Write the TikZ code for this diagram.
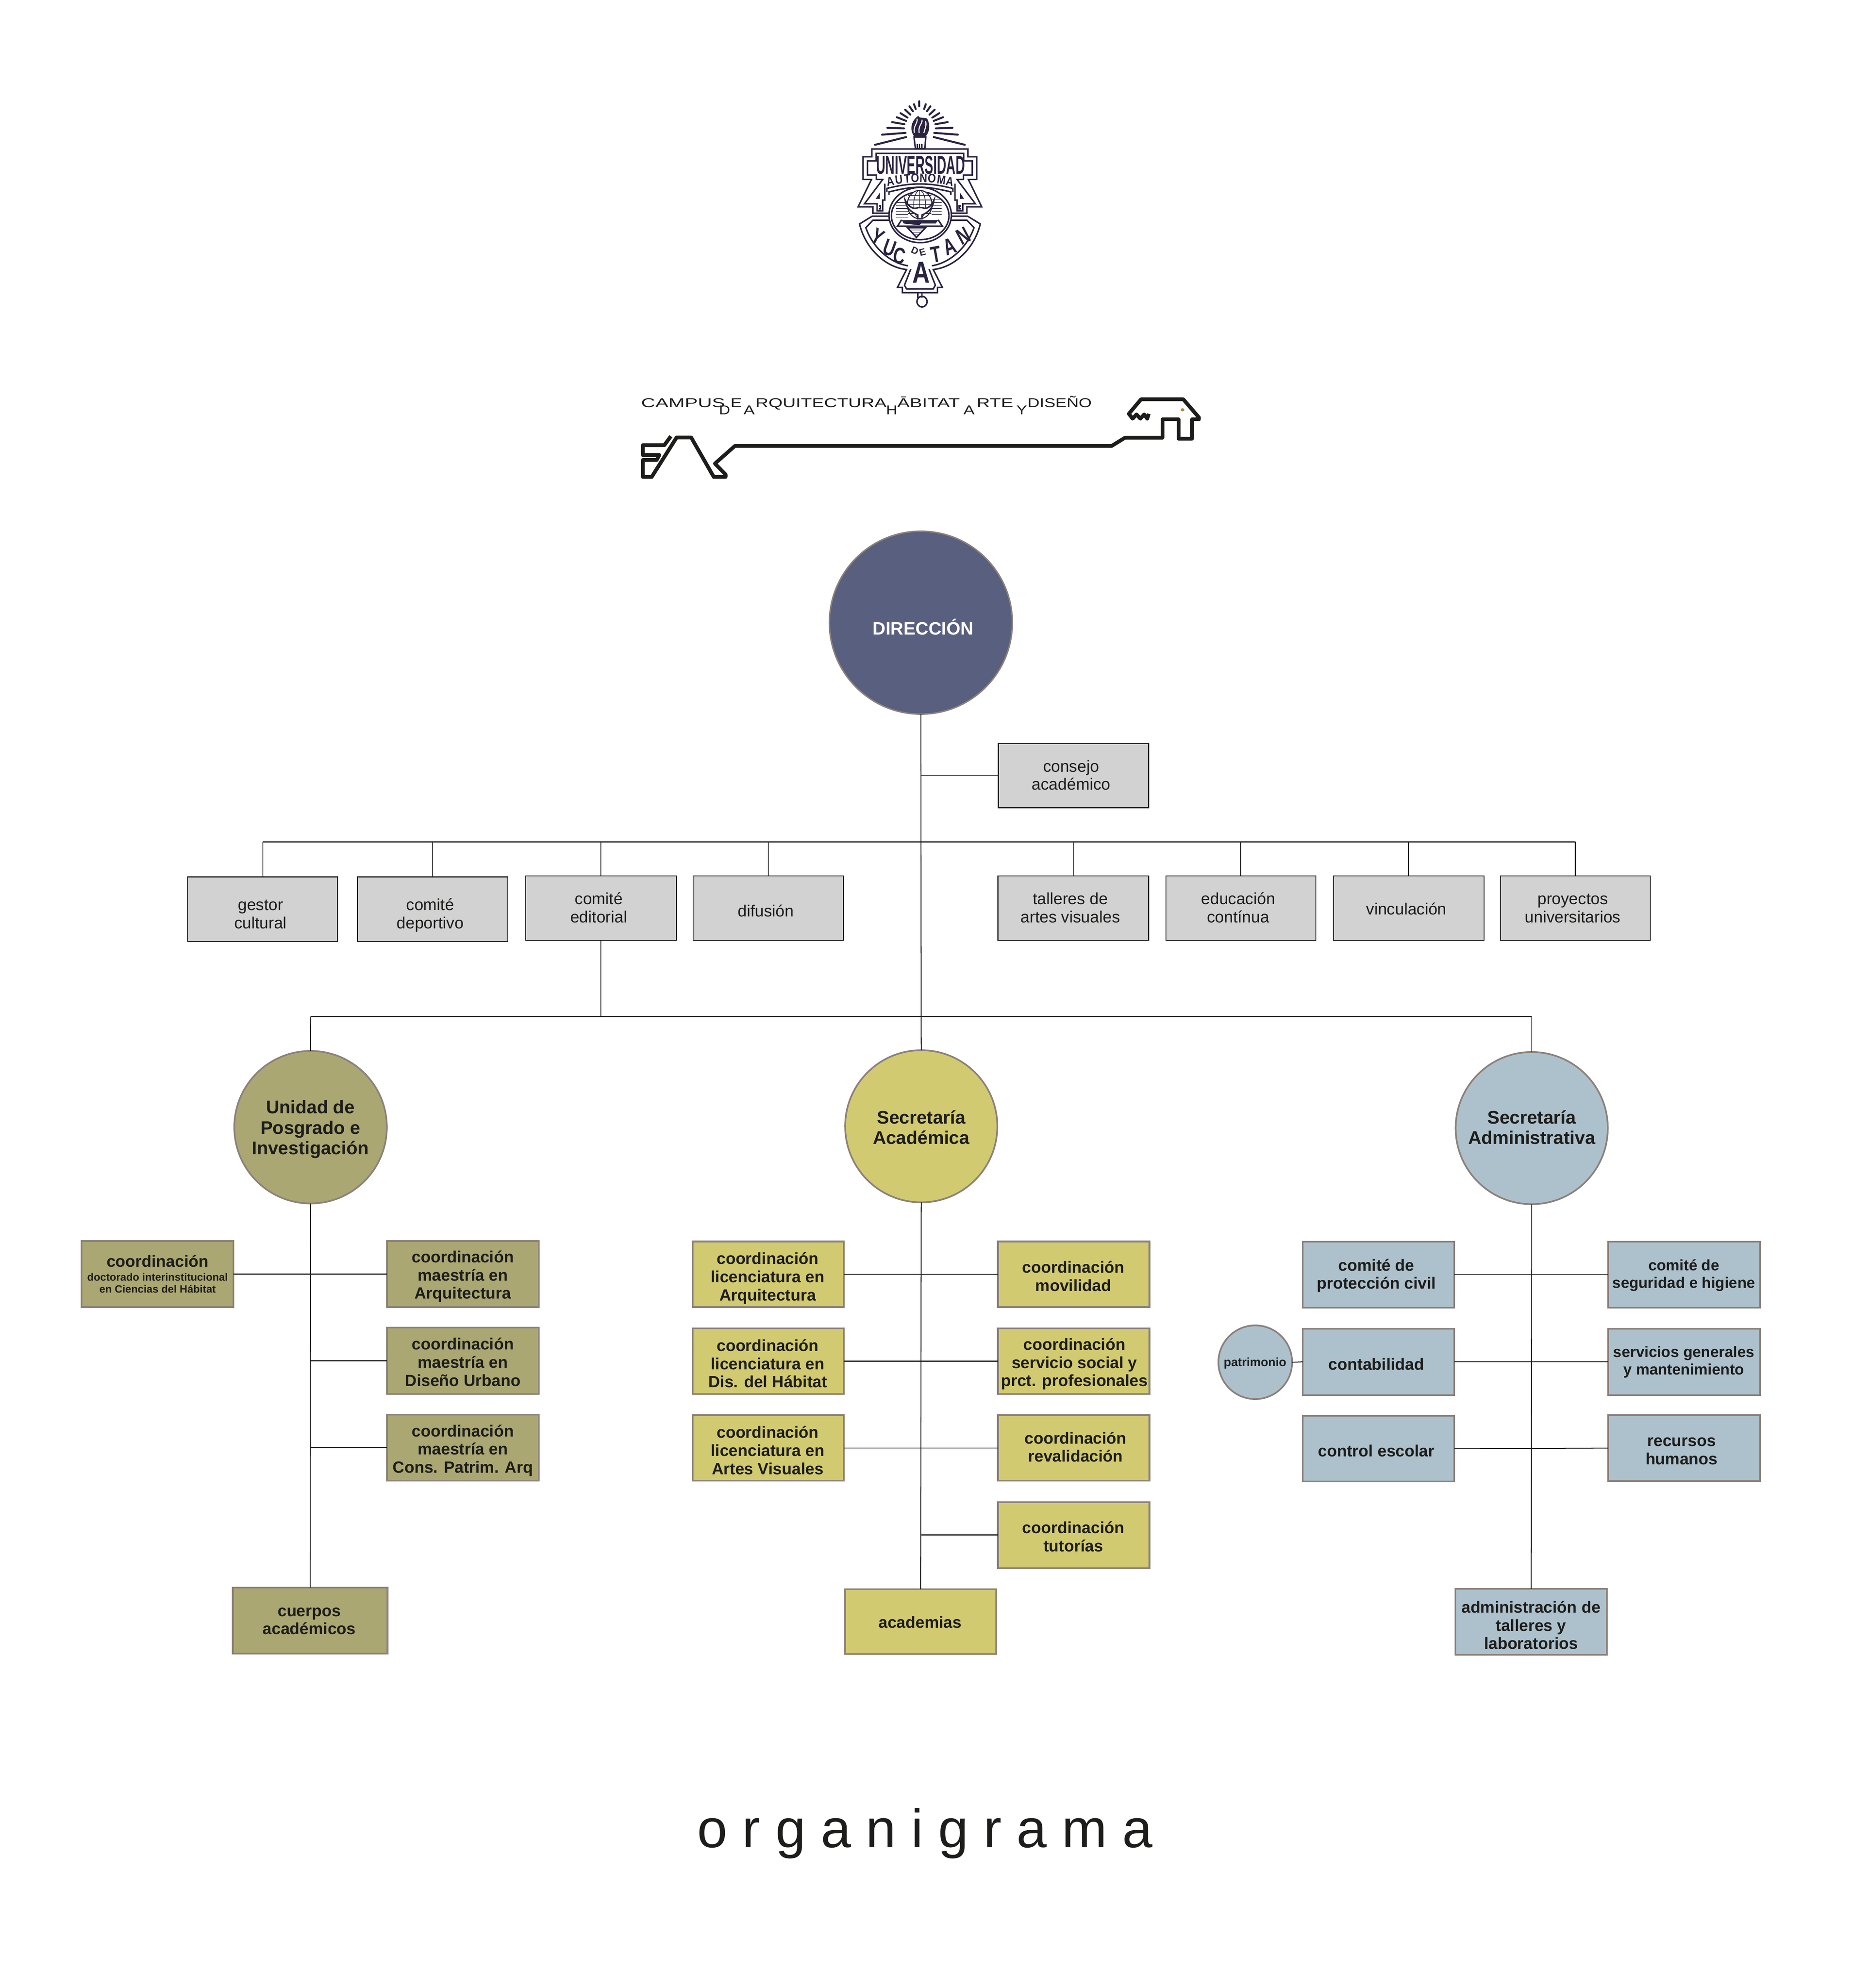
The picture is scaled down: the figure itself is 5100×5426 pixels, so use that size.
\documentclass[tikz,border=0pt]{standalone}
\usepackage{fontspec}
\setmainfont{Liberation Sans}
\definecolor{inkdark}{HTML}{1D1D1B}
\definecolor{edgegray}{HTML}{8C817A}
\definecolor{crestink}{HTML}{2A2340}
\definecolor{dirblue}{HTML}{595F7E}
\definecolor{boxgray}{HTML}{D2D2D3}
\definecolor{olive}{HTML}{ABA773}
\definecolor{straw}{HTML}{D2CA70}
\definecolor{steel}{HTML}{ADC1CC}
\definecolor{ochre}{HTML}{B08A3C}
\tikzset{
    orgnode/.style={draw=edgegray,line width=1.3pt,inner sep=0pt,outer sep=0pt,text=inkdark,
        font=\fontsize{12.6}{14.1}\selectfont\bfseries},
    graybox/.style={orgnode,draw=inkdark,line width=.7pt,fill=boxgray,font=\fontsize{12.6}{14.1}\selectfont},
    olivebox/.style={orgnode,fill=olive},
    strawbox/.style={orgnode,fill=straw},
    steelbox/.style={orgnode,fill=steel},
    bigcirc/.style={circle,font=\fontsize{14.2}{15.9}\selectfont\bfseries},
    link/.style={draw=inkdark,line width=.7pt},
    crestline/.style={draw=crestink,line width=1.15pt,line join=miter},
    crestray/.style={draw=crestink,line width=1.5pt,line cap=round},
    crestletter/.style={text=crestink,inner sep=0pt,font=\fontsize{17.7}{18}\selectfont\bfseries},
    campusline/.style={draw=inkdark,line width=2.9pt,line join=round},
    campustext/.style={text=inkdark,inner sep=0pt,anchor=base west,font=\fontsize{10}{10}\selectfont},
}
% name, style, left, top, right, bottom, text x, last baseline, text
\newcommand\OrgBox[9]{%
    \pgfmathsetmacro\BoxCx{(#3+#5)/2}
    \pgfmathsetmacro\BoxCy{(#4+#6)/2}
    \pgfmathsetmacro\TextDx{2*(#7-\BoxCx)/100}
    \pgfmathsetmacro\TextUp{(\BoxCy-#8-3)/100}
    \node[#2,minimum width={(#5-#3-3)*1cm/100},minimum height={(#6-#4-3)*1cm/100}] (#1) at (\BoxCx,\BoxCy)
        {\makebox[0pt]{\hspace*{\TextDx cm}\smash{\raisebox{\TextUp cm}{\begin{tabular}[b]{@{}c@{}}#9\end{tabular}}}}};
}
\newcommand\SmallNote{\fontsize{8.25}{9.3}\selectfont}
\newcommand\TightText{\fontsize{11.8}{13.6}\selectfont}
\newcommand\CrestHalf{%
    \foreach \xa/\ya/\xb/\yb in {490/430/712/378,540/362/708/350,578/316/697/320,612/278/700/292,
        645/245/712/270,672/218/722/248,705/195/742/228,735/172/760/205,768/158/780/190}
        \draw[crestray] (\xa,\ya) -- (\xb,\yb);
    \draw[crestline] (810,458) -- (468,458) -- (468,510) -- (405,510) -- (405,662) -- (465,662) -- (370,845) -- (475,845) -- (475,888) -- (590,888);
    \draw[crestline] (810,487) -- (498,487) -- (498,538) -- (437,538) -- (437,632) -- (500,632) -- (500,662) -- (545,662) -- (415,825) -- (505,825) -- (505,872) -- (545,872) -- (545,800) -- (560,800) -- (560,690);
    \draw[crestline] (520,840) -- (530,840) -- (530,858) -- (518,858);
    \fill[crestink] (525,750) -- (525,792) -- (495,792) -- cycle;
    \draw[crestline] (590,908) -- (470,908) -- (380,960) .. controls (420,1120) and (560,1250) .. (715,1265) -- (650,1385) -- (685,1385) -- (685,1420) -- (810,1420);
    \draw[crestline] (590,935) -- (475,935) -- (425,985) .. controls (470,1110) and (590,1220) .. (725,1240);
    \draw[crestline] (745,1262) -- (700,1370) -- (715,1395) -- (810,1395);
    \draw[crestline] (575,745) -- (575,722) .. controls (650,705) and (720,692) .. (810,692);
    \draw[crestline] (590,765) -- (590,745) .. controls (660,730) and (730,714) .. (810,714);
    \draw[crestline] (795,1420) -- (795,1455);
}

\begin{document}
\begin{tikzpicture}[x=0.01cm,y=-0.01cm]
    \useasboundingbox (0,0) rectangle (5100,5426);
    \begin{scope}[shift={(2200,220)},x=0.003827cm,y=-0.00408cm] % crest
        \CrestHalf
        \begin{scope}[shift={(1620,0)},xscale=-1]
            \CrestHalf
        \end{scope}
        \draw[crestray] (805,138) -- (805,172);
        \fill[crestink] (770,375) .. controls (735,330) and (745,270) .. (800,235) .. controls (795,255) and (850,245) .. (862,255) .. controls (885,300) and (880,340) .. (850,375) -- cycle;
        \draw[white,line width=.8pt] (770,350) .. controls (762,300) and (795,290) .. (790,255);
        \draw[white,line width=.8pt] (805,350) .. controls (795,300) and (830,290) .. (825,262);
        \draw[white,line width=.8pt] (838,350) .. controls (850,310) and (858,300) .. (850,270);
        \draw[crestline,fill=white] (768,378) -- (852,378) -- (845,455) -- (778,455) -- cycle;
        \foreach \xa in {792,808,824}
            \draw[crestline] (\xa,425) -- (\xa,455);
        \draw[crestline] (812,900) ellipse (222 and 185);
        \draw[crestline] (812,905) ellipse (205 and 160);
        \foreach \ya in {815,835,855,875,895,915}
            \draw[crestline,line width=.5pt] (638,\ya) -- (725,\ya);
        \foreach \ya in {795,815,835,855,875,895}
            \draw[crestline,line width=.5pt] (895,\ya) -- (965,\ya);
        \draw[crestline,line width=.8pt,fill=white] (808,830) ellipse (88 and 95);
        \draw[crestline,line width=.5pt] (808,830) ellipse (42 and 95) (808,735) -- (808,925);
        \foreach \ya in {770,800,830,860,890}
            \draw[crestline,line width=.5pt] (725,\ya) -- (892,\ya);
        \draw[crestline,fill=white] (705,800) .. controls (715,860) and (750,880) .. (795,900) -- (795,925) -- (825,925) -- (825,900) .. controls (870,880) and (900,860) .. (910,800) .. controls (880,860) and (850,860) .. (825,850) -- (800,850) .. controls (770,860) and (740,860) .. (705,800) -- cycle;
        \draw[crestline] (680,932) -- (650,975) -- (970,975) -- (940,932);
        \fill[crestink] (682,935) -- (940,935) -- (922,957) -- (818,957) -- (805,968) -- (695,957) -- cycle;
        \draw[crestline] (722,985) -- (785,1050) -- (850,985) -- cycle;
        \foreach \ya/\xa/\xb in {1000/738/835,1016/752/820,1032/770/802}
            \draw[crestline,line width=.5pt] (\xa,\ya) -- (\xb,\ya);
        \draw[crestline] (825,1480) circle (36 and 36);
        \node[crestletter,font=\fontsize{20}{21}\selectfont\bfseries] (crestuni) at (815,565) {\scalebox{.5}[1]{UNIVERSIDAD}};
        \foreach \ch/\xa/\ya/\rot [count=\i] in {A/600/675/10,U/660/663/7,T/720/656/4,O/775/652/1,N/835/652/-1,O/895/655/-4,M/965/663/-7,A/1025/675/-10}
            \node[crestletter,font=\fontsize{9.6}{10}\selectfont\bfseries,rotate=\rot] (crestaut\i) at (\xa,\ya) {\scalebox{.85}[1]{\ch}};
        \foreach \ch/\xa/\ya/\rot [count=\i] in {Y/510/1045/-28,U/595/1120/-20,C/665/1175/-10,T/925/1165/10,A/1020/1110/20,N/1120/1040/28}
            \node[crestletter,rotate=\rot] (crestyuc\i) at (\xa,\ya) {\scalebox{.72}[1]{\ch}};
        \node[crestletter,font=\fontsize{7.5}{8}\selectfont\bfseries,rotate=-25] (crestd) at (775,1138) {D};
        \node[crestletter,font=\fontsize{7.5}{8}\selectfont\bfseries,rotate=15] (creste) at (828,1150) {E};
        \node[crestletter,font=\fontsize{23.5}{24}\selectfont\bfseries] (cresta) at (820,1285) {\scalebox{.8}[1]{A}};
    \end{scope}
    \begin{scope}[shift={(1700,1040)},x=0.010459cm,y=-0.00331cm] % campus mark
        \foreach \txt/\xs/\xa/\ya [count=\i] in {CAMPUS/1.52/47/217,D/1.2/250/277,E/1.33/280/217,A/1.3/314/277,
            RQUITECTURA/1.41/345/217,H/1.2/686/277,ĀBITAT/1.45/715/217,A/1.3/888/277,RTE/1.44/922/217,Y/1.25/1026/277,DISEÑO/1.3/1055/217}
            \node[campustext] (campus\i) at (\xa,\ya) {\scalebox{\xs}[1]{\txt}};
        \draw[campusline] (125,455) -- (108,528) -- (52,528) -- (52,610) -- (95,610) -- (88,650) -- (52,650) -- (52,790) -- (75,790) -- (140,465) -- (178,465) -- (237,790) -- (268,790) -- (268,770) -- (240,680) -- (292,535) -- (1275,535) -- (1310,467) -- (1408,467) -- (1408,315) -- (1450,315) -- (1450,475) -- (1485,475) -- (1485,315) -- (1503,315) -- (1503,300) -- (1462,150) -- (1352,150) -- (1320,270) -- (1330,310) -- (1340,275) -- (1350,310) -- (1360,275) -- (1368,310) -- (1372,270);
        \fill[ochre] (1460,237) ellipse (5 and 13);
    \end{scope}
    \OrgBox{dir}{orgnode,bigcirc,fill=dirblue,text=white,line width=1.1pt,font=\fontsize{13.9}{15}\selectfont\bfseries}{2262}{1449}{2764}{1950}{2519}{1730}{DIRECCIÓN}
    \OrgBox{consejo}{graybox}{2723}{2028}{3136}{2206}{2923}{2153}{consejo\\académico}
    \OrgBox{gestor}{graybox}{511}{2392}{923}{2571}{711}{2531}{gestor\\cultural}
    \OrgBox{deporte}{graybox}{974}{2392}{1387}{2571}{1174}{2531}{comité\\deportivo}
    \OrgBox{editorial}{graybox}{1433}{2389}{1847}{2568}{1634}{2515}{comité\\editorial}
    \OrgBox{difusion}{graybox}{1890}{2389}{2303}{2568}{2090}{2499}{difusión}
    \OrgBox{talleres}{graybox}{2722}{2389}{3136}{2568}{2921}{2515}{talleres de\\artes visuales}
    \OrgBox{educacion}{graybox}{3180}{2389}{3592}{2568}{3379}{2515}{educación\\contínua}
    \OrgBox{vincula}{graybox}{3637}{2389}{4051}{2568}{3838}{2493}{vinculación}
    \OrgBox{proyectos}{graybox}{4093}{2389}{4505}{2568}{4292}{2515}{proyectos\\universitarios}
    \OrgBox{unidad}{olivebox,bigcirc}{639}{2867}{1056}{3286}{847}{3148}{Unidad de\\Posgrado e\\Investigación}
    \OrgBox{secac}{strawbox,bigcirc}{2306}{2865}{2722}{3283}{2514}{3120}{Secretaría\\Académica}
    \OrgBox{secad}{steelbox,bigcirc}{3972}{2870}{4388}{3288}{4180}{3120}{Secretaría\\Administrativa}
    \OrgBox{doctor}{olivebox}{221}{3386}{638}{3569}{430}{3525}{coordinación\\[-3.3pt]{\SmallNote doctorado interinstitucional}\\[-5pt]{\SmallNote en Ciencias del Hábitat}}
    \OrgBox{maarq}{olivebox}{1055}{3386}{1472}{3569}{1263}{3542}{coordinación\\maestría en\\Arquitectura}
    \OrgBox{maurb}{olivebox}{1055}{3622}{1472}{3806}{1263}{3780}{coordinación\\maestría en\\Diseño Urbano}
    \OrgBox{macons}{olivebox}{1055}{3860}{1472}{4043}{1263}{4017}{coordinación\\maestría en\\Cons. Patrim. Arq}
    \OrgBox{cuerpos}{olivebox}{634}{4332}{1059}{4515}{844}{4458}{cuerpos\\académicos}
    \OrgBox{liarq}{strawbox}{1889}{3387}{2304}{3569}{2095}{3547}{coordinación\\licenciatura en\\Arquitectura}
    \OrgBox{lihab}{strawbox}{1889}{3624}{2304}{3806}{2095}{3784}{coordinación\\licenciatura en\\Dis. del Hábitat}
    \OrgBox{liart}{strawbox}{1889}{3861}{2304}{4043}{2095}{4021}{coordinación\\licenciatura en\\Artes Visuales}
    \OrgBox{movil}{strawbox}{2722}{3387}{3138}{3569}{2929}{3521}{coordinación\\movilidad}
    \OrgBox{servso}{strawbox}{2722}{3624}{3138}{3806}{2932}{3781}{coordinación\\servicio social y\\prct. profesionales}
    \OrgBox{revali}{strawbox}{2722}{3861}{3138}{4043}{2935}{3987}{coordinación\\revalidación}
    \OrgBox{tutor}{strawbox}{2722}{4098}{3138}{4281}{2929}{4232}{coordinación\\tutorías}
    \OrgBox{academ}{strawbox}{2305}{4336}{2720}{4516}{2511}{4440}{academias}
    \OrgBox{patrim}{steelbox,circle,font=\fontsize{9.4}{10}\selectfont\bfseries}{3324}{3616}{3527}{3820}{3425}{3726}{patrimonio}
    \OrgBox{proteccion}{steelbox}{3554}{3388}{3970}{3571}{3756}{3515}{comité de\\protección civil}
    \OrgBox{contab}{steelbox}{3554}{3625}{3970}{3809}{3756}{3736}{contabilidad}
    \OrgBox{escolar}{steelbox}{3554}{3863}{3970}{4045}{3756}{3973}{control escolar}
    \OrgBox{seguridad}{steelbox,font=\TightText\bfseries}{4387}{3388}{4804}{3571}{4595}{3512}{comité de\\seguridad e higiene}
    \OrgBox{servgen}{steelbox,font=\TightText\bfseries}{4387}{3625}{4804}{3809}{4595}{3749}{servicios generales\\y mantenimiento}
    \OrgBox{recursos}{steelbox}{4387}{3861}{4804}{4044}{4589}{3994}{recursos\\humanos}
    \OrgBox{adminlab}{steelbox}{3970}{4335}{4387}{4518}{4178}{4498}{administración de\\talleres y\\laboratorios}
    \coordinate (RowLeft) at (717,2298);
    \coordinate (RowRight) at (4299,2298);
    \coordinate (BusLeft) at (847,2775);
    \coordinate (BusRight) at (4180,2775);
    \draw[link] (dir.south) -- (secac.north);
    \draw[link] (consejo.west) -- (consejo.west -| dir.south);
    \draw[link] (RowLeft) -- (RowRight);
    \foreach \unit in {gestor,deporte,editorial,difusion,talleres,educacion,vincula,proyectos}
        \draw[link] (\unit.north) -- (\unit.north |- RowLeft);
    \draw[link] (editorial.south) -- (editorial.south |- BusLeft);
    \draw[link] (BusLeft) -- (BusRight);
    \draw[link] (BusLeft) -- (unidad.north);
    \draw[link] (BusRight) -- (secad.north);
    \draw[link] (unidad.south) -- (cuerpos.north);
    \draw[link] (doctor.east) -- (maarq.west);
    \draw[link] (maurb.west) -- (maurb.west -| unidad.south);
    \draw[link] (macons.west) -- (macons.west -| unidad.south);
    \draw[link] (secac.south) -- (academ.north);
    \draw[link] (liarq.east) -- (movil.west);
    \draw[link] (lihab.east) -- (servso.west);
    \draw[link] (liart.east) -- (revali.west);
    \draw[link] (tutor.west) -- (tutor.west -| secac.south);
    \draw[link] (secad.south) -- (adminlab.north);
    \draw[link] (proteccion.east) -- (seguridad.west);
    \draw[link] (contab.east) -- (servgen.west);
    \draw[link] (escolar.east) -- (recursos.west);
    \draw[link] (patrim.east) -- (contab.west);
    \node[text=inkdark,inner sep=0pt,anchor=base west,font=\fontsize{42.1}{50}\selectfont] (organi) at (1902,5042) {o r g a n i g r a m a};
\end{tikzpicture}
\end{document}
